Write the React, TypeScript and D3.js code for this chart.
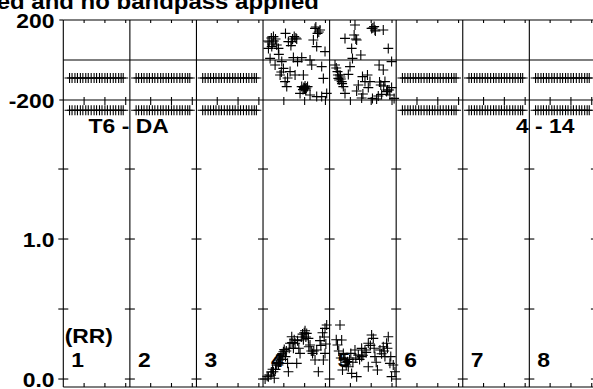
import React from "react";
import * as d3 from "d3";

const W = 593;
const H = 389;

const panelLabels = ["1", "2", "3", "4", "5", "6", "7", "8"];
const flaggedPanels = [0, 1, 2, 5, 6, 7];
const titleText = "Data calibrated and no bandpass applied";
const baselineLeft = "T6 - DA";
const baselineRight = "4 - 14";
const stokesLabel = "(RR)";

const timeTicks = [5, 10, 15];
const ampTicks = [0, 0.5, 1.0, 1.5];
const ampLabels = [0, 1.0];
const phaseLabels = [200, -200];

const flaggedTimes = [1.5, 2.1, 2.8, 3.4, 4.1, 4.7, 5.4, 6.0, 6.7, 7.4, 8.0, 8.7, 9.3, 10.0, 10.6, 11.3, 12.0, 12.6, 13.3, 13.9, 14.4];
const flaggedPhase = -90;
const flaggedAmp = 1.92;

// panel 4 phase: [time, degrees]
const p4Phase: [number, number][] = [
  [1.3, 58], [2.1, 67], [2.5, 117], [3.0, 105], [1.7, 8], [3.7, 58], [3.8, 28], [4.5, -8],
  [4.9, -42], [4.1, -75], [5.3, -108], [5.7, -133], [5.4, 133], [6.1, 92], [7.1, 105], [7.5, 117],
  [8.1, 105], [6.7, 72], [7.3, 12], [8.3, -8], [9.3, 12], [7.7, -75], [9.7, -75], [9.3, -133],
  [9.9, -142], [10.3, -150], [10.7, -133], [8.9, -167], [11.3, 0], [11.7, -25], [12.5, 158], [13.1, 133],
  [13.7, 150], [12.9, 67], [14.1, -33], [12.1, 100], [14.5, -92], [15.3, -167], [14.1, -183], [12.9, -183],
  [11.3, -175], [14.9, 42], [2.9, -25], [6.5, -58], [10.0, -140], [10.2, -145],
  [9.8, -138], [10.1, -130], [10.4, -140], [9.6, -148], [2.0, 110], [2.6, 95], [1.5, 90], [3.3, 75],
  [1.2, 95], [2.2, 80], [5.9, -90], [4.4, -60], [7.9, 110], [6.9, 92], [13.4, 140], [12.7, 165]
];
// panel 5 phase
const p5Phase: [number, number][] = [
  [1.3, -25], [1.9, -58], [2.5, -75], [2.9, -108], [3.3, -133], [2.1, -92], [3.7, 108], [4.9, -33],
  [5.5, 8], [5.9, 125], [6.1, 175], [6.5, 100], [4.5, -72], [3.7, -167], [7.5, 25], [7.9, -83],
  [8.5, -108], [6.9, -125], [6.5, -155], [9.3, -138], [10.1, 158], [10.7, 167], [11.0, 145], [11.9, -25],
  [10.3, -192], [12.9, 150], [14.1, 58], [14.9, -8], [12.9, -50], [12.3, -125], [13.3, -108], [13.7, -158],
  [12.5, -172], [14.9, -138], [15.5, -192], [11.3, -195], [7.7, -190], [9.1, -75], [5.3, 58], [9.7, -108],
  [2.3, -100], [2.7, -95], [13.9, -150],
  [1.6, -40], [2.0, -75], [2.6, -85], [3.0, -118], [6.3, 105], [10.4, 160], [10.9, 150], [12.0, -110],
  [13.0, -130], [14.3, -150], [11.7, -180], [14.5, -175], [8.0, -170]
];
// panel 4 amplitude: [time, amp]
const p4Amp: [number, number][] = [
  [0.5, 0.0], [1.3, 0.016], [1.9, 0.028], [2.5, 0.052], [3.0, 0.069], [3.7, 0.1], [3.8, 0.136], [4.3, 0.171],
  [4.9, 0.195], [5.4, 0.16], [5.9, 0.112], [6.5, 0.255], [6.9, 0.302], [7.3, 0.219], [7.7, 0.255], [8.3, 0.274],
  [8.9, 0.183], [9.5, 0.321], [10.1, 0.345], [10.5, 0.326], [10.9, 0.29], [11.3, 0.243], [11.9, 0.183], [12.5, 0.136],
  [12.9, 0.207], [13.3, 0.052], [13.7, 0.274], [14.3, 0.331], [14.9, 0.362], [14.9, 0.183], [14.5, 0.136], [15.3, 0.386],
  [2.7, 0.005], [6.1, 0.052], [8.1, 0.112], [4.6, 0.14], [5.1, 0.21], [9.9, 0.33], [12.2, 0.2],
  [2.0, 0.05], [2.3, 0.07], [3.2, 0.1], [3.4, 0.12], [4.0, 0.15], [4.6, 0.18], [5.6, 0.2], [6.3, 0.22],
  [7.0, 0.26], [7.5, 0.28], [8.6, 0.22], [9.2, 0.3], [9.7, 0.28], [10.3, 0.3], [11.0, 0.23], [11.6, 0.2],
  [13.9, 0.24], [14.7, 0.3], [15.1, 0.25], [1.0, 0.02]
];
// panel 5 amplitude
const p5Amp: [number, number][] = [
  [2.5, 0.386], [1.9, 0.243], [2.9, 0.279], [3.3, 0.183], [3.7, 0.136], [3.1, 0.064], [4.5, 0.088], [5.3, 0.04],
  [5.1, 0.183], [6.1, 0.207], [6.9, 0.171], [7.7, 0.16], [8.5, 0.207], [9.3, 0.255], [10.1, 0.314], [10.5, 0.29],
  [10.9, 0.16], [11.5, 0.064], [12.1, 0.207], [12.9, 0.231], [13.7, 0.255], [14.1, 0.302], [14.5, 0.112], [14.9, 0.017],
  [15.7, 0.052], [9.3, 0.088], [6.5, 0.017], [4.3, 0.124], [7.7, 0.219], [13.3, 0.16], [2.7, 0.15], [3.9, 0.12],
  [1.6, 0.28], [2.2, 0.2], [3.5, 0.15], [4.0, 0.1], [4.8, 0.14], [5.6, 0.12], [6.3, 0.15], [7.2, 0.14],
  [8.0, 0.17], [8.8, 0.19], [9.8, 0.24], [10.7, 0.22], [11.2, 0.12], [12.5, 0.18], [13.1, 0.2], [13.9, 0.22],
  [14.7, 0.16], [15.3, 0.1]
];

const FONT = "'Liberation Sans', Arial, Helvetica, sans-serif";
const SX = 1.09;

function T({ x, y, anchor, size, children }: { x: number; y: number; anchor?: string; size?: number; children: React.ReactNode }) {
  return (
    <text
      transform={`translate(${x},${y}) scale(${SX},1)`}
      textAnchor={anchor || "start"}
      fontSize={size || 21}
    >
      {children}
    </text>
  );
}

export default function App() {
  const panelX = d3.scaleLinear().domain([0, 8]).range([63.3, 595.9]);
  const pw = panelX(1) - panelX(0);
  const xScale = (i: number) => d3.scaleLinear().domain([0, 16]).range([panelX(i), panelX(i) + pw]);
  const yPhase = d3.scaleLinear().domain([-200, 200]).range([100, 20]);
  const yAmp = d3.scaleLinear().domain([-0.057, 1.993]).range([387, 100]);

  const left = panelX(0);
  const right = W + 10;
  const arm = 5;

  const cross = (x: number, y: number, key: string) => (
    <path key={key} d={`M${x - arm},${y}H${x + arm}M${x},${y - arm}V${y + arm}`} />
  );

  const marks: JSX.Element[] = [];
  flaggedPanels.forEach((p) => {
    const xs = xScale(p);
    flaggedTimes.forEach((t, j) => {
      marks.push(cross(xs(t), yPhase(flaggedPhase), `fp${p}-${j}`));
      marks.push(cross(xs(t), yAmp(flaggedAmp), `fa${p}-${j}`));
    });
  });
  const x4 = xScale(3);
  const x5 = xScale(4);
  p4Phase.forEach(([t, v], j) => marks.push(cross(x4(t), yPhase(v), `p4p${j}`)));
  p5Phase.forEach(([t, v], j) => marks.push(cross(x5(t), yPhase(v), `p5p${j}`)));
  p4Amp.forEach(([t, v], j) => marks.push(cross(x4(t), yAmp(v), `p4a${j}`)));
  p5Amp.forEach(([t, v], j) => marks.push(cross(x5(t), yAmp(v), `p5a${j}`)));

  const panelIdx = d3.range(0, 9);

  return (
    <svg width={W} height={H} style={{ position: "absolute", left: 0, top: 0, background: "#fff" }}>
      <rect width={W} height={H} fill="#fff" />
      <g stroke="#000" strokeWidth={1.1} fill="none">
        <line x1={left} x2={right} y1={yPhase(200)} y2={yPhase(200)} />
        <line x1={left} x2={right} y1={yPhase(0)} y2={yPhase(0)} />
        <line x1={left} x2={right} y1={yPhase(-200)} y2={yPhase(-200)} />
        <line x1={left} x2={right} y1={yAmp.range()[0]} y2={yAmp.range()[0]} />
        {panelIdx.map((i) => (
          <line key={`v${i}`} x1={panelX(i)} x2={panelX(i)} y1={yPhase(200)} y2={yAmp.range()[0]} />
        ))}
        {panelIdx.map((i) =>
          ampTicks.map((a) => (
            <line key={`at${i}-${a}`} x1={panelX(i) - 5} x2={panelX(i) + 5} y1={yAmp(a)} y2={yAmp(a)} />
          ))
        )}
        <line x1={left - 4} x2={left} y1={yPhase(-200)} y2={yPhase(-200)} />
        <line x1={left - 4} x2={left} y1={yPhase(200)} y2={yPhase(200)} />
        {d3.range(0, 8).map((i) =>
          timeTicks.map((t) => {
            const x = xScale(i)(t);
            return (
              <g key={`tt${i}-${t}`}>
                <line x1={x} x2={x} y1={yPhase(200)} y2={yPhase(200) + 3} />
                <line x1={x} x2={x} y1={yPhase(-200) - 3} y2={yPhase(-200) + 5} />
                <line x1={x} x2={x} y1={yAmp.range()[0] - 4} y2={yAmp.range()[0]} />
              </g>
            );
          })
        )}
      </g>
      <g stroke="#000" strokeWidth={1.1} fill="none">
        {marks}
      </g>
      <g fontFamily={FONT} fontWeight="bold" fill="#000">
        <T x={319} y={9} size={22} anchor="end">{titleText}</T>
        {phaseLabels.map((v) => (
          <T key={`pl${v}`} x={54.5} y={yPhase(v) + 8} anchor="end">{v}</T>
        ))}
        {ampLabels.map((v) => (
          <T key={`al${v}`} x={54.5} y={yAmp(v) + 8} anchor="end">{d3.format(".1f")(v)}</T>
        ))}
        <T x={panelX(0) + 25.3} y={133}>{baselineLeft}</T>
        <T x={574.5} y={133} anchor="end">{baselineRight}</T>
        <T x={panelX(0) + 1.4} y={343}>{stokesLabel}</T>
        {panelLabels.map((l, i) => (
          <T key={`lb${i}`} x={panelX(i) + 8} y={367}>{l}</T>
        ))}
      </g>
    </svg>
  );
}
